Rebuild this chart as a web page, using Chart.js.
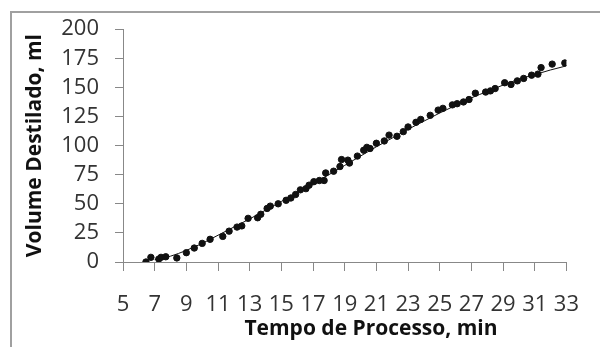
<!DOCTYPE html>
<html>
<head>
<meta charset="utf-8">
<script src="https://cdn.jsdelivr.net/npm/chart.js@4/dist/chart.umd.min.js"></script>
<style>
  html, body { margin: 0; padding: 0; background: #fff; }
  #wrap { position: relative; width: 600px; height: 347px; }
  #frame { position: absolute; left: 10px; top: 11px; right: 0; bottom: 0;
           border-left: 2px solid #a0a0a0; border-top: 2px solid #a0a0a0; }
  canvas { position: absolute; left: 0; top: 0; }
</style>
</head>
<body>
<div id="wrap">
  <div id="frame"></div>
  <canvas id="destChart" width="600" height="347"></canvas>
</div>
<script>
// Pontos medidos (tempo em min, volume em ml)
const tempo = [6.45, 6.76, 7.26, 7.4, 7.7, 8.4, 9.0, 9.5, 10.0, 10.5, 11.3, 11.7, 12.2, 12.5,
  12.9, 13.5, 13.7, 14.1, 14.3, 14.8, 15.3, 15.6, 15.9, 16.2, 16.55, 16.75, 17.05, 17.4, 17.7,
  17.8, 18.3, 18.7, 18.8, 19.2, 19.3, 19.8, 20.2, 20.4, 20.6, 21.0, 21.5, 21.8, 22.3, 22.7,
  23.0, 23.5, 23.8, 24.4, 24.9, 25.2, 25.8, 26.1, 26.5, 26.85, 27.25, 27.9, 28.2, 28.5, 29.1,
  29.5, 29.9, 30.3, 30.8, 31.2, 31.4, 32.1, 32.9];
const volume = [0, 4, 2.5, 4, 4.5, 3.5, 8, 12, 16, 19.5, 22, 26.5, 30, 31,
  37.5, 38, 41, 46, 48, 50, 53, 55, 58, 62, 63, 66, 69, 70, 70,
  76.5, 78, 82, 88, 87.5, 85, 91, 96, 98.5, 97.5, 102, 104, 109, 108, 112,
  116, 120, 122.5, 126, 130.5, 132, 135, 136, 137.5, 139.6, 145, 146, 147, 149, 154,
  152.5, 155.6, 157.7, 160.5, 161.4, 167, 170, 171];

// Linha de tendência
const tendX = [7, 8, 9, 10, 11, 12, 13, 14, 15, 16, 17, 18, 19, 20, 21, 22, 23, 24, 25, 26, 27, 28, 29, 30, 31, 32, 33];
const tendY = [2, 5, 10, 16, 23, 30, 37, 44.5, 52, 60, 67.5, 75, 83, 91, 99, 106.5, 114, 121, 128, 134.5, 141, 146.5, 152, 157, 161, 165, 168.5];

const eixoY = { min: 0, max: 200, step: 25 };
const eixoX = { min: 5, max: 33, step: 2 };
const tituloX = 'Tempo de Processo, min';

const pontos = tempo.map((t, i) => ({ x: t, y: volume[i] }));
const tendencia = tendX.map((t, i) => ({ x: t, y: tendY[i] }));

// título do eixo X desenhado à mão (no Excel ele fica deslocado para a direita)
const tituloXPlugin = {
  id: 'tituloX',
  afterDraw(chart) {
    const c = chart.ctx;
    c.save();
    c.font = 'bold 21px "Open Sans"';
    c.fillStyle = '#111';
    c.textAlign = 'center';
    c.textBaseline = 'middle';
    c.fillText(tituloX, 371, 329);
    c.restore();
  }
};

const ctx = document.getElementById('destChart').getContext('2d');
new Chart(ctx, {
  type: 'scatter',
  data: {
    datasets: [{
      label: 'Medido',
      data: pontos,
      backgroundColor: '#111',
      borderColor: '#111',
      pointRadius: 3.2
    }, {
      label: 'Tendência',
      type: 'line',
      data: tendencia,
      borderColor: '#111',
      borderWidth: 1,
      pointRadius: 0,
      cubicInterpolationMode: 'monotone',
      fill: false
    }]
  },
  options: {
    responsive: false,
    animation: false,
    layout: { padding: { left: 0, top: 29, right: 17, bottom: 0 } },
    plugins: { legend: { display: false }, tooltip: { enabled: false } },
    scales: {
      x: {
        type: 'linear',
        min: eixoX.min, max: eixoX.max,
        afterFit: s => { s.height = 85; },
        ticks: { stepSize: eixoX.step, autoSkip: false, maxRotation: 0, padding: 21,
                 color: '#333', font: { family: 'Open Sans', size: 22 } },
        grid: { drawOnChartArea: false, drawTicks: true, tickLength: 9, color: '#888' },
        border: { color: '#888' }
      },
      y: {
        min: eixoY.min, max: eixoY.max,
        afterFit: s => { s.width = 123; },
        ticks: { stepSize: eixoY.step, autoSkip: false, padding: 16,
                 color: '#333', font: { family: 'Open Sans', size: 22 } },
        grid: { drawOnChartArea: false, drawTicks: true, tickLength: 8, color: '#888' },
        border: { color: '#888' },
        title: { display: true, text: 'Volume Destilado, ml', color: '#111',
                 padding: { top: 22, bottom: 0 },
                 font: { family: 'Open Sans', size: 21, weight: 'bold' } }
      }
    }
  },
  plugins: [tituloXPlugin]
});
</script>
</body>
</html>
